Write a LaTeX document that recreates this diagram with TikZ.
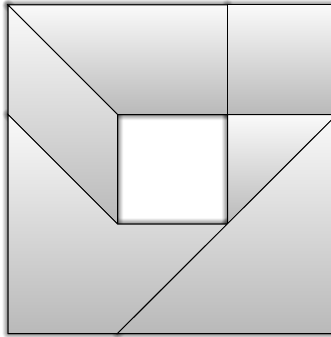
\documentclass[tikz,border=0pt]{standalone}
\usetikzlibrary{shadows.blur}
\begin{document}
\begin{tikzpicture}[x=1pt,y=-1pt,
  piece/.style={draw=black, line width=1pt, line join=miter, top color=gray!4, bottom color=gray!55},
  shad/.style={blur shadow={shadow xshift=0pt, shadow yshift=0pt, shadow blur radius=6pt, shadow opacity=90, shadow blur steps=12}}]
\useasboundingbox (0,0) rectangle (331,337);
% grid coordinates
\coordinate (A0) at (8,5);     \coordinate (B0) at (117.5,5);   \coordinate (C0) at (227.5,5);   \coordinate (D0) at (337,5);
\coordinate (A1) at (8,114.5); \coordinate (B1) at (117.5,114.5); \coordinate (C1) at (227.5,114.5); \coordinate (D1) at (337,114.5);
\coordinate (A2) at (8,224);   \coordinate (B2) at (117.5,224); \coordinate (C2) at (227.5,224); \coordinate (D2) at (337,224);
\coordinate (A3) at (8,333.5); \coordinate (B3) at (117.5,333.5); \coordinate (C3) at (227.5,333.5); \coordinate (D3) at (337,333.5);
% shadow pass
\path[piece,shad] (A0) -- (C0) -- (C1) -- (B1) -- cycle;
\path[piece,shad] (C0) -- (D0) -- (D1) -- (C1) -- cycle;
\path[piece,shad] (A0) -- (B1) -- (B2) -- (A1) -- cycle;
\path[piece,shad] (C1) -- (D1) -- (C2) -- cycle;
\path[piece,shad] (A1) -- (B2) -- (C2) -- (B3) -- (A3) -- cycle;
\path[piece,shad] (D1) -- (D3) -- (B3) -- cycle;
% pieces
\path[piece] (A0) -- (C0) -- (C1) -- (B1) -- cycle;
\path[piece] (C0) -- (D0) -- (D1) -- (C1) -- cycle;
\path[piece] (A0) -- (B1) -- (B2) -- (A1) -- cycle;
\path[piece] (C1) -- (D1) -- (C2) -- cycle;
\path[piece] (A1) -- (B2) -- (C2) -- (B3) -- (A3) -- cycle;
\path[piece] (D1) -- (D3) -- (B3) -- cycle;
\end{tikzpicture}
\end{document}
